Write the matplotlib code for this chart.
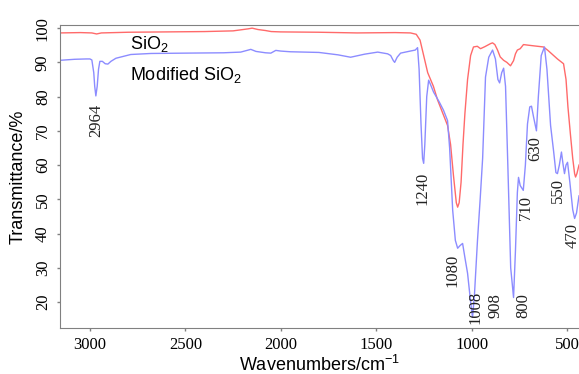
import matplotlib
matplotlib.use("Agg")
import matplotlib.pyplot as plt

plt.rcParams["mathtext.fontset"] = "custom"
plt.rcParams["mathtext.rm"] = "Liberation Sans"

# SiO2 spectrum (wavenumber, transmittance)
sio2_wn = [3157, 3050, 2990, 2965, 2940, 2800, 2600, 2400, 2250, 2170, 2150, 2120, 2080, 2050, 2000,
           1800, 1600, 1400, 1320, 1290, 1270, 1251, 1230, 1200, 1178, 1150, 1126, 1110, 1095, 1080,
           1073, 1065, 1055, 1045, 1035, 1021, 1005, 990, 970, 953, 930, 900, 890, 878, 864, 850,
           832, 815, 796, 780, 770, 760, 745, 728, 700, 670, 623, 600, 580, 550, 518, 505, 495,
           482, 470, 460, 455, 448, 437]
sio2_t = [98.6, 98.7, 98.6, 98.3, 98.6, 98.8, 98.9, 99.0, 99.2, 99.8, 100.0, 99.6, 99.3, 99.0, 98.9,
          98.8, 98.6, 98.7, 98.6, 98.2, 96.5, 92, 87, 83, 79, 75, 71.6, 66, 57, 49,
          47.7, 49, 55, 66, 75, 85, 92, 94.5, 94.7, 94, 94.6, 95.5, 95.7, 95.2, 93.6, 91.6,
          90.6, 90, 89, 90.5, 92.5, 93.6, 94, 95.2, 95, 94.8, 94.5, 93.5, 92.5, 91, 89.6, 85, 77,
          69, 62, 57.5, 56.5, 57.5, 60]

# Modified SiO2 spectrum
mod_wn = [3157, 3080, 3020, 3000, 2990, 2980, 2975, 2969, 2962, 2955, 2948, 2935, 2920, 2906, 2890,
          2864, 2786, 2680, 2500, 2300, 2210, 2170, 2157, 2130, 2080, 2052, 2026, 2000, 1950, 1800,
          1700, 1634, 1560, 1492, 1440, 1424, 1410, 1403, 1390, 1372, 1330, 1295, 1283, 1275, 1265,
          1257, 1251, 1245, 1235, 1225, 1215, 1199, 1170, 1147, 1126, 1115, 1099, 1085, 1073, 1060,
          1047, 1035, 1021, 1005, 995, 985, 969, 955, 942, 927, 910, 890, 875, 862, 853, 842, 832,
          822, 810, 795, 780, 770, 760, 754, 745, 729, 718, 707, 695, 686, 675, 660, 650, 635, 618,
          605, 586, 570, 558, 550, 540, 529, 520, 513, 505, 497, 485, 470, 460, 450, 437]
mod_t = [90.6, 90.9, 91.0, 91.0, 90.7, 87, 83, 80.2, 83, 88, 90.3, 90.3, 89.6, 89.5, 90.3,
         91.2, 92.3, 92.6, 92.7, 92.8, 93.0, 93.6, 93.8, 93.2, 92.8, 92.7, 93.5, 93.3, 93.1, 92.9,
         92.2, 91.5, 92.4, 93.0, 92.5, 92.0, 90.5, 90.0, 91.5, 92.7, 93.2, 93.6, 94.3, 88, 72,
         62, 60.5, 66, 80, 84.8, 83.5, 81.3, 78.5, 76, 73, 65, 46.8, 38, 35.7, 36.5,
         37.1, 33, 28.4, 20, 15.5, 22, 38, 50, 62, 85.7, 91.5, 93.6, 91, 85, 84, 87, 88.3,
         83, 60, 30, 21.3, 35, 52, 56.4, 54, 52.6, 60, 72, 77, 77.2, 74, 70, 80, 92, 94.5,
         88, 71.6, 64, 57.8, 57.5, 60, 63.8, 60, 57.5, 60, 60.8, 55, 47, 44.4, 46, 51]

# peak labels
peak_labels = ["2964", "1240", "1080", "1008", "908", "800", "710", "630", "550", "470"]
peak_x = [2969, 1257, 1099, 979, 874, 728, 717, 665, 550, 471]
peak_y = [73.1, 53.2, 29.2, 18.4, 19.0, 19.0, 47.7, 64.9, 52.6, 39.5]

fig = plt.figure(figsize=(5.79, 3.74), dpi=100)
ax = fig.add_axes([0.1036, 0.123, 0.8964, 0.810])

ax.plot(sio2_wn, sio2_t, color="#ff6a6a", lw=1.0)
ax.plot(mod_wn, mod_t, color="#8c8cff", lw=1.0)

ax.set_xlim(3157, 437)
ax.set_ylim(12.4, 100.9)
ax.set_xticks([3000, 2500, 2000, 1500, 1000, 500])
ax.set_yticks(range(20, 101, 10))

for lab in ax.get_xticklabels():
    lab.set_family("Liberation Serif")
    lab.set_fontsize(12)
for lab in ax.get_yticklabels():
    lab.set_family("Liberation Serif")
    lab.set_fontsize(12)
    lab.set_rotation(90)
    lab.set_va("center")

ax.tick_params(direction="out", length=2.5, color="#808080", width=1, pad=4)
for s in ["left", "bottom", "top"]:
    ax.spines[s].set_color("#808080")
ax.spines["right"].set_visible(False)

ax.set_xlabel(r"Wavenumbers/cm$^{\mathregular{-1}}$", family="Liberation Sans", fontsize=13, labelpad=1)
ax.set_ylabel("Transmittance/%", family="Liberation Sans", fontsize=13, labelpad=6)

ax.text(2790, 95.3, r"SiO$_\mathregular{2}$", family="Liberation Sans", fontsize=13,
        ha="left", va="center")
ax.text(2790, 86.3, r"Modified SiO$_\mathregular{2}$", family="Liberation Sans", fontsize=13,
        ha="left", va="center")

for lab, x, y in zip(peak_labels, peak_x, peak_y):
    ax.text(x, y, lab, rotation=90, ha="center", va="center", family="Liberation Serif",
            fontsize=12, color="#222222", clip_on=False)

fig.savefig("out.png", dpi=100)
